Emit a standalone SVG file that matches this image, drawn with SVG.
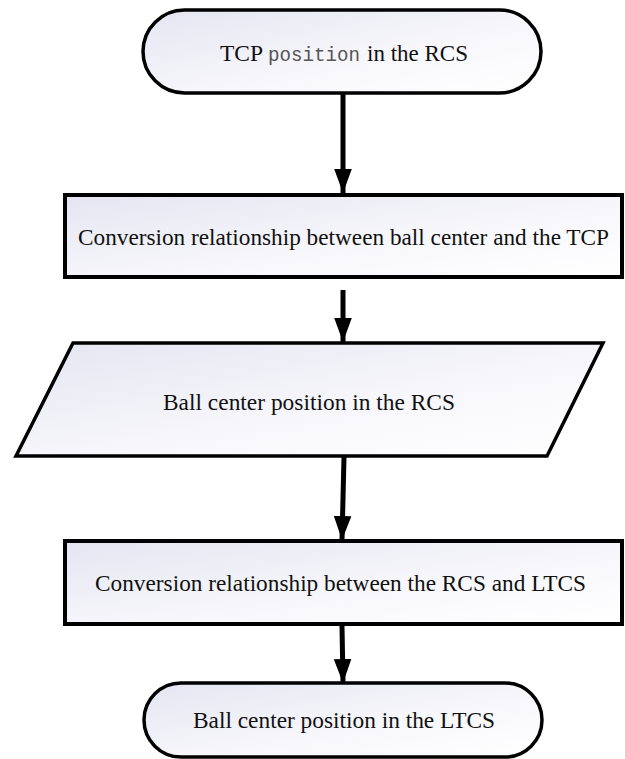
<svg xmlns="http://www.w3.org/2000/svg" width="625" height="759" viewBox="0 0 625 759">
<defs>
<linearGradient id="fill" x1="0" y1="0" x2="1" y2="1">
<stop offset="0" stop-color="#e4e5f1"/>
<stop offset="0.6" stop-color="#f8f8fc"/>
<stop offset="1" stop-color="#ffffff"/>
</linearGradient>
<marker id="arrow" markerUnits="userSpaceOnUse" markerWidth="24" markerHeight="32" refX="30" refY="11" viewBox="0 0 30 22" orient="auto">
<path d="M0,0 L30,11 L0,22 Z" fill="#000"/>
</marker>
<style>
.shape{fill:url(#fill);stroke:#000;stroke-width:3.5}
.box{fill:url(#fill);stroke:#000;stroke-width:4}
.lbl{font-family:"Liberation Serif","Times New Roman",serif;font-size:23px;fill:#111}
.mono{font-family:"Liberation Mono","Courier New",monospace;font-size:20px;fill:#555}
.conn{stroke:#000;stroke-width:5;fill:none}
</style>
</defs>
<g id="connectors">
<line class="conn" x1="343" y1="93" x2="343" y2="193" marker-end="url(#arrow)"/>
<line class="conn" x1="343" y1="290" x2="343" y2="342" marker-end="url(#arrow)"/>
<line class="conn" x1="344" y1="457" x2="342" y2="540" marker-end="url(#arrow)"/>
<line class="conn" x1="342" y1="626" x2="343" y2="683" marker-end="url(#arrow)"/>
</g>
<g id="start">
<rect class="shape" x="143" y="10" width="398" height="83" rx="41.5" ry="41.5"/>
<text class="lbl" x="220" y="61" textLength="43" lengthAdjust="spacingAndGlyphs">TCP</text>
<text class="mono" x="268" y="61" textLength="92" lengthAdjust="spacingAndGlyphs">position</text>
<text class="lbl" x="367" y="61" textLength="101" lengthAdjust="spacingAndGlyphs">in the RCS</text>
</g>
<g id="conv1">
<rect class="box" x="65" y="195" width="557" height="82"/>
<text class="lbl" x="78" y="245" textLength="531" lengthAdjust="spacingAndGlyphs">Conversion relationship between ball center and the TCP</text>
</g>
<g id="ballrcs">
<polygon class="shape" points="73,343 603,343 547,456 16,456"/>
<text class="lbl" x="163" y="410" textLength="292" lengthAdjust="spacingAndGlyphs">Ball center position in the RCS</text>
</g>
<g id="conv2">
<rect class="box" x="65" y="541" width="557" height="83"/>
<text class="lbl" x="95" y="591" textLength="491" lengthAdjust="spacingAndGlyphs">Conversion relationship between the RCS and LTCS</text>
</g>
<g id="end">
<rect class="shape" x="144" y="683" width="398" height="74" rx="37" ry="37"/>
<text class="lbl" x="193" y="728" textLength="302" lengthAdjust="spacingAndGlyphs">Ball center position in the LTCS</text>
</g>
</svg>
